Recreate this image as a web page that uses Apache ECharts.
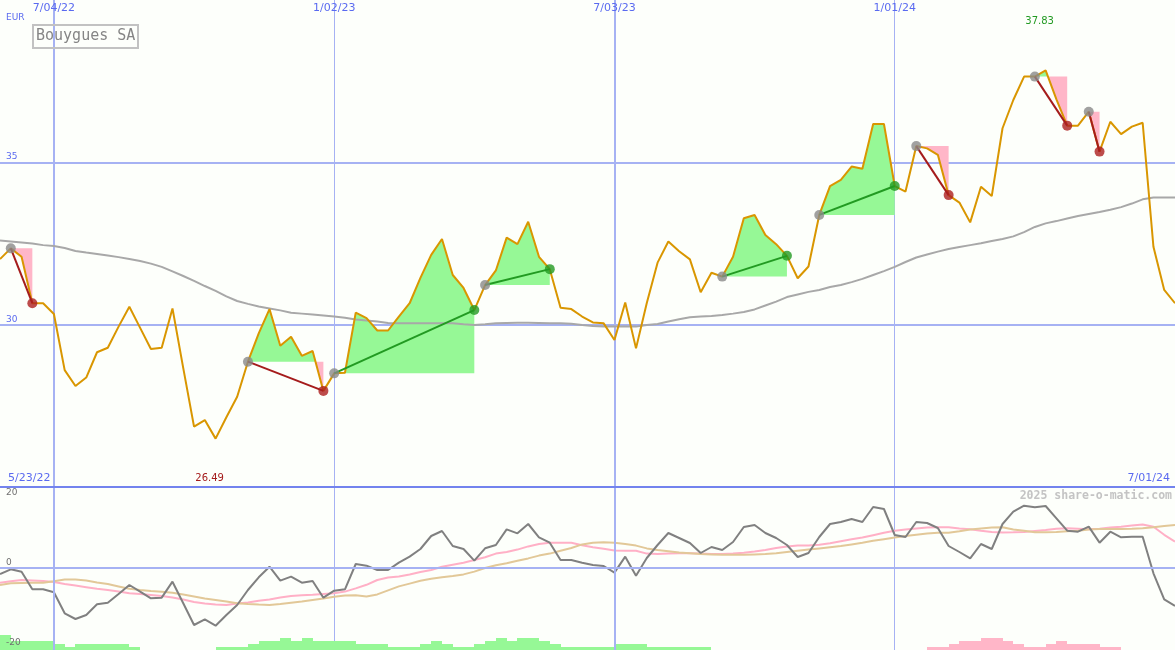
<!DOCTYPE html>
<html><head><meta charset="utf-8">
<script src="https://cdn.jsdelivr.net/npm/echarts@6/dist/echarts.min.js"></script>
<style>html,body{margin:0;padding:0;background:#fdfffb}#c{width:1175px;height:650px}</style>
</head><body><div id="c"></div>
<script>
const categories = ['5/30/22','6/06/22','6/13/22','6/20/22','6/27/22','7/04/22','7/11/22','7/18/22','7/25/22','8/01/22','8/08/22','8/15/22','8/22/22','8/29/22','9/05/22','9/12/22','9/19/22','9/26/22','10/03/22','10/10/22','10/17/22','10/24/22','10/31/22','11/07/22','11/14/22','11/21/22','11/28/22','12/05/22','12/12/22','12/19/22','12/26/22',
'1/02/23','1/09/23','1/16/23','1/23/23','1/30/23','2/06/23','2/13/23','2/20/23','2/27/23','3/06/23','3/13/23','3/20/23','3/27/23','4/03/23','4/10/23','4/17/23','4/24/23','5/01/23','5/08/23','5/15/23','5/22/23','5/29/23','6/05/23','6/12/23','6/19/23','6/26/23','7/03/23','7/10/23','7/17/23','7/24/23','7/31/23','8/07/23','8/14/23','8/21/23','8/28/23','9/04/23','9/11/23','9/18/23','9/25/23','10/02/23','10/09/23','10/16/23','10/23/23','10/30/23','11/06/23','11/13/23','11/20/23','11/27/23','12/04/23','12/11/23','12/18/23','12/25/23',
'1/01/24','1/08/24','1/15/24','1/22/24','1/29/24','2/05/24','2/12/24','2/19/24','2/26/24','3/04/24','3/11/24','3/18/24','3/25/24','4/01/24','4/08/24','4/15/24','4/22/24','4/29/24','5/06/24','5/13/24','5/20/24','5/27/24','6/03/24','6/10/24','6/17/24','6/24/24','7/01/24'];

const price = [32.02,32.35,32.09,30.66,30.66,30.33,28.60,28.11,28.37,29.15,
29.29,29.94,30.55,29.90,29.25,29.29,30.50,28.66,26.86,27.06,
26.49,27.15,27.78,28.86,29.73,30.48,29.35,29.63,29.04,29.19,
27.96,28.50,28.52,30.37,30.20,29.82,29.82,30.25,30.66,31.44,
32.15,32.64,31.53,31.13,30.45,31.22,31.67,32.68,32.48,33.17,
32.09,31.71,30.52,30.48,30.25,30.07,30.04,29.53,30.68,29.27,
30.67,31.91,32.56,32.26,32.01,31.00,31.60,31.48,32.09,33.28,
33.38,32.76,32.48,32.12,31.43,31.79,33.38,34.27,34.46,34.87,
34.80,36.18,36.18,34.27,34.10,35.50,35.43,35.23,33.99,33.76,
33.15,34.25,33.96,36.05,36.92,37.64,37.64,37.83,36.94,36.13,
36.13,36.56,35.33,36.25,35.87,36.10,36.22,32.40,31.07,30.66];

const movingAvg = [32.59,32.56,32.53,32.50,32.45,32.42,32.36,32.27,32.22,32.18,
32.13,32.08,32.02,31.96,31.88,31.78,31.64,31.50,31.35,31.19,
31.04,30.87,30.73,30.64,30.56,30.50,30.44,30.37,30.34,30.31,
30.28,30.25,30.21,30.16,30.13,30.10,30.05,30.04,30.04,30.04,
30.04,30.04,30.04,30.01,29.99,30.01,30.04,30.05,30.06,30.06,
30.05,30.04,30.04,30.03,29.99,29.96,29.94,29.94,29.94,29.94,
29.99,30.02,30.10,30.17,30.23,30.25,30.27,30.30,30.34,30.39,
30.47,30.59,30.71,30.85,30.93,31.01,31.07,31.16,31.22,31.31,
31.41,31.53,31.65,31.78,31.93,32.07,32.16,32.25,32.33,32.39,
32.45,32.51,32.58,32.64,32.72,32.85,33.01,33.12,33.19,33.27,
33.35,33.41,33.47,33.54,33.62,33.73,33.86,33.92,33.92,33.92];

const momentum = [-1.50,-0.33,-0.93,-5.33,-5.33,-6.08,-11.33,-12.75,-11.75,-9.08,
-8.67,-6.50,-4.25,-5.92,-7.58,-7.42,-3.42,-8.83,-14.25,-12.83,
-14.42,-11.75,-9.25,-5.50,-2.33,0.33,-3.17,-2.17,-3.67,-3.25,
-7.42,-5.67,-5.33,1.00,0.58,-0.50,-0.50,1.33,2.83,4.75,
8.00,9.25,5.50,4.75,1.83,4.92,5.75,9.67,8.67,11.00,
7.67,6.33,2.00,2.00,1.33,0.75,0.50,-1.17,2.83,-1.92,
2.50,5.75,8.75,7.50,6.25,3.75,5.25,4.50,6.50,10.25,
10.75,8.75,7.50,5.75,2.75,3.75,7.75,11.00,11.50,12.25,
11.50,15.25,14.75,8.25,7.75,11.50,11.25,10.00,5.50,4.00,
2.42,6.00,4.75,11.00,14.08,15.58,15.17,15.50,12.42,9.33,
9.08,10.33,6.33,9.08,7.67,7.83,7.83,-1.33,-7.83,-9.50];

const momentumFast = [-3.67,-3.30,-3.00,-3.10,-3.25,-3.50,-4.00,-4.40,-4.80,-5.20,
-5.50,-5.90,-6.30,-6.50,-6.75,-7.00,-7.40,-7.90,-8.50,-8.90,
-9.10,-9.25,-8.90,-8.60,-8.20,-7.90,-7.40,-7.00,-6.80,-6.70,
-6.50,-6.33,-5.90,-5.10,-4.20,-3.00,-2.40,-2.10,-1.60,-1.00,
-0.50,0.30,0.80,1.30,2.00,2.70,3.60,4.00,4.60,5.40,
6.00,6.33,6.33,6.30,5.70,5.20,4.80,4.40,4.30,4.33,
3.60,3.50,3.60,3.70,3.70,3.60,3.50,3.50,3.60,3.80,
4.10,4.50,5.00,5.40,5.60,5.60,5.80,6.20,6.70,7.20,
7.60,8.20,8.80,9.30,9.60,9.90,10.10,10.20,10.17,9.90,
9.67,9.30,9.00,8.90,8.92,9.00,9.25,9.50,9.80,9.92,
9.80,9.67,9.80,10.10,10.30,10.60,10.90,10.30,8.30,6.60];

const momentumSlow = [-4.25,-3.83,-3.75,-3.70,-3.67,-3.30,-2.90,-2.85,-3.10,-3.60,
-4.00,-4.60,-5.20,-5.50,-5.75,-5.95,-6.20,-6.60,-7.10,-7.60,
-8.00,-8.40,-8.80,-9.00,-9.15,-9.25,-9.00,-8.70,-8.40,-8.00,
-7.60,-7.20,-6.90,-6.80,-7.10,-6.60,-5.60,-4.60,-3.90,-3.20,
-2.70,-2.30,-2.00,-1.60,-0.90,0.00,0.70,1.20,1.80,2.40,
3.10,3.60,4.30,5.00,5.90,6.30,6.42,6.30,6.00,5.60,
4.90,4.50,4.20,3.90,3.70,3.50,3.40,3.30,3.30,3.30,
3.40,3.50,3.70,4.00,4.30,4.60,4.90,5.20,5.50,5.90,
6.30,6.80,7.20,7.60,8.00,8.30,8.60,8.80,8.83,9.20,
9.60,9.90,10.10,10.17,9.60,9.30,8.95,8.92,9.00,9.20,
9.30,9.60,9.75,9.75,9.75,9.80,9.92,10.20,10.50,10.75];

const trendBars = [5,3,3,3,3,2,1,2,2,2,
2,2,1,0,0,0,0,0,0,0,
1,1,1,2,3,3,4,3,4,3,
3,3,3,2,2,2,1,1,1,2,
3,2,1,1,2,3,4,3,4,4,
3,2,1,1,1,1,1,2,2,2,
1,1,1,1,1,1,0,0,0,0,
0,0,0,0,0,0,0,0,0,0,
0,0,0,0,0,0,-1,-1,-2,-3,
-3,-4,-4,-3,-2,-1,-1,-2,-3,-2,
-2,-2,-1,-1,0,0,0,0,0,0];

const signalStart = ['6/06/22','11/07/22','1/02/23','4/10/23','9/11/23','11/13/23','1/15/24','4/01/24','5/06/24'];
const signalEnd   = ['6/20/22','12/26/22','4/03/23','5/22/23','10/23/23','1/01/24','2/05/24','4/22/24','5/13/24'];

const tickDates = ['7/04/22','1/02/23','7/03/23','1/01/24'];
const midYearTicks = ['7/04/22','7/03/23'];
const yearTicks = ['1/02/23','1/01/24'];
const priceTicks = [30, 35];
const oscTicks = [20, 0, -20];
const rangeLabels = ['5/23/22', '7/01/24'];
const minLabel = '26.49';
const maxLabel = '37.83';
const titleText = 'Bouygues SA';
const unitText = 'EUR';
const watermark = '2025 share-o-matic.com';

const BLUE = '#5a6af0', GRIDC = '#a6b2f3', GREEN_FILL = '#96f896', PINK_FILL = '#ffb6c8';
const startIdx = signalStart.map(d => categories.indexOf(d));
const endIdx = signalEnd.map(d => categories.indexOf(d));
const minIdx = price.indexOf(Math.min(...price));
const maxIdx = price.indexOf(Math.max(...price));

function areaItem(params, api) {
  const s = startIdx[params.dataIndex], e = endIdx[params.dataIndex];
  const base = price[s];
  const by = api.coord([s, base])[1];
  const runs = [];
  let pts = [api.coord([s, price[s]])], sign = 0;
  for (let k = s; k < e; k++) {
    const a = price[k] - base, b = price[k + 1] - base;
    const p0 = api.coord([k, price[k]]), p1 = api.coord([k + 1, price[k + 1]]);
    if (!sign && a) sign = Math.sign(a);
    if (a * b < 0) {
      const t = a / (a - b);
      const c = [p0[0] + (p1[0] - p0[0]) * t, by];
      pts.push(c); runs.push({pts, sign});
      pts = [c]; sign = Math.sign(b);
    }
    pts.push(p1);
    if (!sign && b) sign = Math.sign(b);
  }
  runs.push({pts, sign});
  return {type: 'group', children: runs.map(r => ({
    type: 'polygon',
    shape: {points: [[r.pts[0][0], by]].concat(r.pts, [[r.pts[r.pts.length - 1][0], by]])},
    style: {fill: r.sign >= 0 ? GREEN_FILL : PINK_FILL}
  }))};
}
function connItem(params, api) {
  const s = startIdx[params.dataIndex], e = endIdx[params.dataIndex];
  const p0 = api.coord([s, price[s]]), p1 = api.coord([e, price[e]]);
  return {type: 'line', shape: {x1: p0[0], y1: p0[1], x2: p1[0], y2: p1[1]},
    style: {stroke: price[e] >= price[s] ? '#229a22' : '#a51c1c', lineWidth: 2}};
}
function barItem(params, api) {
  const i = api.value(0), v = api.value(1);
  if (!v) return null;
  const p0 = api.coord([i, Math.abs(v)]), p1 = api.coord([i + 1, 0]);
  const x0 = Math.round(p0[0]), x1 = Math.round(p1[0]);
  return {type: 'rect', shape: {x: x0, y: Math.round(p0[1]), width: x1 - x0, height: Math.round(p1[1]) - Math.round(p0[1])},
    style: {fill: v > 0 ? GREEN_FILL : PINK_FILL}};
}

const catAxis = (grid, extra) => Object.assign({
  type: 'category', data: categories, boundaryGap: false, gridIndex: grid,
  axisLine: {show: false}, axisTick: {show: false}, axisLabel: {show: false}, splitLine: {show: false}
}, extra);

const chart = echarts.init(document.getElementById('c'), null, {renderer: 'canvas'});
chart.setOption({
  backgroundColor: '#fdfffb',
  animation: false,
  title: {text: titleText, left: 33, top: 25, padding: [4, 3, 4, 3], borderColor: '#c2c2c2', borderWidth: 2,
    textStyle: {fontFamily: 'DejaVu Sans Mono', fontSize: 15, fontWeight: 'normal', color: '#858585'}},
  grid: [
    {left: 0, right: 0, top: 0, height: 487, outerBoundsMode: 'none', containLabel: false},
    {left: 0, right: 0, top: 488, height: 160, outerBoundsMode: 'none', containLabel: false},
    {left: 0, right: 0, top: 487, height: 163, outerBoundsMode: 'none', containLabel: false}
  ],
  xAxis: [
    catAxis(0, {position: 'top',
      axisLabel: {show: true, inside: true, margin: 3, interval: (i, v) => tickDates.includes(v),
        color: BLUE, fontSize: 11, fontFamily: 'DejaVu Sans'},
      splitLine: {show: true, interval: (i, v) => midYearTicks.includes(v), lineStyle: {color: GRIDC, width: 2}}}),
    catAxis(0, {splitLine: {show: true, interval: (i, v) => yearTicks.includes(v), lineStyle: {color: GRIDC, width: 1}}}),
    catAxis(1, {}),
    catAxis(2, {position: 'top', z: 6, axisLine: {show: true, onZero: false, lineStyle: {color: '#7383ee', width: 2}},
      splitLine: {show: true, interval: (i, v) => midYearTicks.includes(v), lineStyle: {color: GRIDC, width: 2}}}),
    catAxis(2, {splitLine: {show: true, interval: (i, v) => yearTicks.includes(v), lineStyle: {color: GRIDC, width: 1}}})
  ],
  yAxis: [
    {type: 'value', gridIndex: 0, position: 'left', min: 25, max: 40, interval: 5,
      axisLine: {show: false}, axisTick: {show: false},
      axisLabel: {inside: true, margin: 6, verticalAlign: 'bottom', showMinLabel: false, showMaxLabel: false,
        formatter: v => priceTicks.includes(v) ? String(v) : '', color: BLUE, fontSize: 9, fontFamily: 'DejaVu Sans', padding: [0, 0, 1, 0]},
      splitLine: {show: true, showMinLine: false, showMaxLine: false, lineStyle: {color: GRIDC, width: 2}}},
    {type: 'value', gridIndex: 1, position: 'left', min: -20, max: 20, interval: 20, z: 10,
      axisLine: {show: false}, axisTick: {show: false},
      axisLabel: {inside: true, margin: 6, verticalAlign: 'bottom', showMaxLabel: false,
        formatter: v => (oscTicks.includes(v) && v !== 20) ? String(v) : '', color: '#707070', fontSize: 9, fontFamily: 'DejaVu Sans', padding: [0, 0, 1, 0]},
      splitLine: {show: true, showMinLine: false, showMaxLine: false, lineStyle: {color: GRIDC, width: 2}}},
    {type: 'value', gridIndex: 1, position: 'left', offset: 0, min: -20, max: 20, interval: 20, z: 10,
      axisLine: {show: false}, axisTick: {show: false},
      axisLabel: {inside: true, margin: 6, verticalAlign: 'top', showMinLabel: false,
        formatter: v => v === 20 ? String(v) : '', color: '#707070', fontSize: 9, fontFamily: 'DejaVu Sans'},
      splitLine: {show: false}},
    {type: 'value', gridIndex: 2, min: 0, max: 163 / 3, show: false}
  ],
  series: [
    {type: 'custom', xAxisIndex: 0, yAxisIndex: 0, z: 1, renderItem: areaItem,
      data: startIdx.map(i => [i, price[i]])},
    {type: 'line', xAxisIndex: 0, yAxisIndex: 0, z: 2, data: movingAvg, symbol: 'none',
      lineStyle: {color: '#a8a8a8', width: 2}},
    {type: 'line', xAxisIndex: 0, yAxisIndex: 0, z: 3, data: price, symbol: 'none',
      lineStyle: {color: '#d99600', width: 2},
      markPoint: {symbol: 'circle', symbolSize: 1, itemStyle: {color: 'rgba(0,0,0,0)'},
        data: [
          {coord: [minIdx, 25.25], label: {show: true, formatter: minLabel, color: '#a51c1c', fontSize: 10, fontFamily: 'DejaVu Sans', offset: [-6, 0]}},
          {coord: [maxIdx, 39.35], label: {show: true, formatter: maxLabel, color: '#229a22', fontSize: 10, fontFamily: 'DejaVu Sans', offset: [-6, 0]}}
        ]}},
    {type: 'custom', xAxisIndex: 0, yAxisIndex: 0, z: 4, renderItem: connItem,
      data: startIdx.map(i => [i, price[i]])},
    {type: 'scatter', xAxisIndex: 0, yAxisIndex: 0, z: 5, symbolSize: 10,
      itemStyle: {color: '#8a8a8a'}, data: startIdx.map(i => [i, price[i]])},
    {type: 'scatter', xAxisIndex: 0, yAxisIndex: 0, z: 5, symbolSize: 10,
      data: endIdx.map((e, k) => ({value: [e, price[e]], itemStyle: {color: price[e] >= price[startIdx[k]] ? '#229a22' : '#ad1f1f'}}))},
    {type: 'line', xAxisIndex: 2, yAxisIndex: 1, z: 2, data: momentumFast, symbol: 'none',
      lineStyle: {color: '#ffb0c6', width: 2}},
    {type: 'line', xAxisIndex: 2, yAxisIndex: 1, z: 2, data: momentumSlow, symbol: 'none',
      lineStyle: {color: '#e2c898', width: 2}},
    {type: 'line', xAxisIndex: 2, yAxisIndex: 1, z: 3, data: momentum, symbol: 'none',
      lineStyle: {color: '#808080', width: 2}},
    {type: 'custom', xAxisIndex: 3, yAxisIndex: 3, z: 1, renderItem: barItem,
      data: trendBars.map((v, i) => [i, v])}
  ],
  graphic: [
    {type: 'text', left: 6, top: 13, z: 10, style: {text: unitText, fill: BLUE, font: '9px "DejaVu Sans"'}},
    {type: 'text', left: 8, top: 473, style: {text: rangeLabels[0], fill: BLUE, font: '11px "DejaVu Sans"'}},
    {type: 'text', right: 5, top: 473, style: {text: rangeLabels[1], fill: BLUE, font: '11px "DejaVu Sans"'}},
    {type: 'text', right: 3, top: 490, style: {text: watermark, fill: '#c4c4c4', font: 'bold 11.5px "DejaVu Sans Mono"'}}
  ]
});
</script></body></html>
